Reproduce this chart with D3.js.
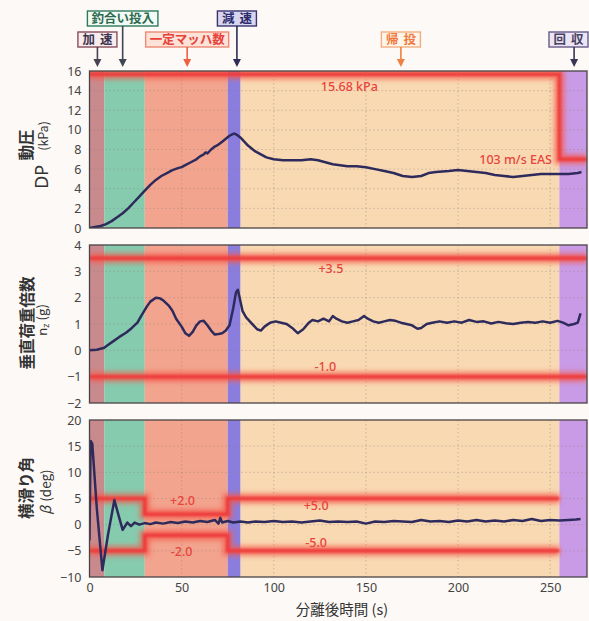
<!DOCTYPE html>
<html lang="ja">
<head>
<meta charset="UTF-8">
<title>分離後時間</title>
<script src="https://cdn.jsdelivr.net/npm/d3@7"></script>
<style>
  body, html { margin:0; background:#fcf9f6; font-family:"Noto Sans CJK JP", "Noto Sans", sans-serif; }
  svg { display:block; }
</style>
</head>
<body>
<svg width="589" height="621"></svg>
<script>
// flight phases (s after separation)
const phaseNames=['加速','釣合い投入','一定マッハ数','減速','帰投','回収'];
const phaseStart=[0,8,30,75,82,255];
const phaseEnd=[8,30,75,82,255,270];
const phaseArrowT=[4.3,18,53,80,169,263];
const phaseRow=[1,0,1,0,1,1];

const timeTicks=[0,50,100,150,200,250];
const dpTicks=[0,2,4,6,8,10,12,14,16];
const nzTicks=[-2,-1,0,1,2,3,4];
const betaTicks=[-10,-5,0,5,10,15,20];

// dynamic pressure DP (kPa)
const dpData=[[0,0],[3,0.1],[6,0.2],[9,0.4],[12,0.7],[15,1.1],[18,1.5],[21,2.0],[24,2.6],[27,3.2],[30,3.8],[33,4.4],[36,4.9],[39,5.3],[42,5.6],[45,5.9],[48,6.1],[50,6.2],[52,6.4],[55,6.7],[58,7.0],[60,7.3],[62,7.5],[63,7.7],[64,7.6],[66,8.0],[68,8.3],[70,8.5],[72,8.8],[74,9.1],[76,9.4],[78,9.6],[79,9.6],[80,9.5],[82,9.2],[84,8.8],[86,8.4],[88,8.1],[90,7.8],[93,7.5],[96,7.2],[100,7.0],[105,6.9],[110,6.9],[115,6.9],[120,7.0],[124,6.9],[128,6.7],[132,6.5],[136,6.4],[140,6.3],[145,6.3],[150,6.2],[155,6.0],[160,5.8],[165,5.6],[170,5.3],[175,5.2],[180,5.3],[184,5.6],[188,5.7],[195,5.8],[200,5.9],[205,5.8],[210,5.7],[215,5.6],[220,5.4],[225,5.3],[230,5.2],[235,5.3],[240,5.4],[245,5.5],[250,5.5],[255,5.5],[260,5.5],[265,5.6],[267,5.7]];
const dpLimit=[[0,15.68],[255,15.68],[255,7.0],[270,7.0]];

// vertical load factor nz (g)
const nzData=[[0,0.0],[4,0.02],[8,0.1],[10,0.2],[13,0.35],[16,0.5],[20,0.68],[23,0.85],[26,1.05],[28,1.3],[31,1.65],[33,1.85],[36,2.0],[38,1.98],[40,1.9],[43,1.7],[45,1.5],[47,1.2],[50,0.9],[52,0.65],[54,0.55],[56,0.7],[58,0.95],[60,1.1],[62,1.12],[64,0.95],[66,0.75],[68,0.6],[70,0.62],[72,0.65],[74,0.75],[76,0.95],[78,1.6],[79.5,2.2],[80.5,2.3],[81.5,2.0],[83,1.5],[85,1.25],[87,1.1],[89,0.95],[91,0.8],[93,0.75],[95,0.9],[98,1.05],[101,1.1],[104,1.05],[107,1.0],[110,0.85],[113,0.65],[116,0.8],[119,1.05],[121,1.15],[124,1.1],[127,1.2],[130,1.1],[132,1.3],[134,1.2],[137,1.1],[140,1.05],[143,1.1],[146,1.15],[149,1.3],[151,1.2],[154,1.1],[157,1.05],[160,1.1],[163,1.15],[166,1.12],[169,1.05],[172,1.0],[175,0.95],[178,0.82],[180,0.85],[183,1.0],[186,1.05],[190,1.1],[194,1.05],[198,1.1],[202,1.05],[206,1.15],[210,1.08],[214,1.1],[218,1.02],[222,1.08],[226,1.03],[230,1.0],[234,1.05],[238,1.08],[242,1.05],[246,1.1],[250,1.05],[254,1.12],[257,1.05],[260,0.95],[263,1.0],[265,1.05],[266.5,1.4]];
const nzUpper=[[0,3.5],[270,3.5]];
const nzLower=[[0,-1.0],[270,-1.0]];

// sideslip angle beta (deg)
const betaData=[[0,-3],[0.6,16],[1.5,15.5],[4,3],[7,-8.7],[10,-2],[13.5,4.7],[16,1.5],[18,-1.0],[20.5,0.4],[22.5,-0.3],[24.5,0.4],[27,0.0],[30,0.3],[33,0.1],[36,0.4],[40,0.2],[44,0.5],[48,0.3],[52,0.6],[56,0.4],[60,0.7],[64,0.5],[68,0.9],[70,0.2],[71,1.3],[72,0.4],[75,0.7],[78,0.4],[82,0.6],[86,0.4],[90,0.6],[95,0.5],[100,0.7],[105,0.5],[110,0.6],[115,0.4],[120,0.6],[125,0.8],[130,0.5],[135,0.6],[140,0.5],[145,0.6],[150,0.2],[155,0.6],[160,0.5],[165,0.7],[170,0.6],[175,0.5],[180,0.9],[185,0.6],[190,0.7],[195,0.5],[200,0.8],[205,0.6],[210,0.9],[215,0.6],[220,0.8],[225,0.6],[230,0.9],[235,0.7],[240,1.1],[245,0.7],[250,0.9],[255,0.8],[260,0.9],[264,1.0],[266.5,1.1]];
const betaUpper=[[0,5],[30,5],[30,2],[75,2],[75,5],[255,5]];
const betaLower=[[0,-5],[30,-5],[30,-2],[75,-2],[75,-5],[255,-5]];

// limit annotations: [text, t, value]
const dpNotes=[['15.68 kPa',141,14.0],['103 m/s EAS',251,6.5]];
const nzNotes=[['+3.5',131,2.95],['-1.0',128,-0.8]];
const betaNotes=[['+2.0',50.5,3.7],['-2.0',50,-6.0],['+5.0',123,2.8],['-5.0',123,-4.2]];

const phaseFill=['#c98a8e','#86cbae','#f2a48e','#8a7ddd','#f8d9b2','#c99be6'];
const boxStroke=['#8a4e5e','#2f7a5f','#ee8a74','#3a3570','#f2ae80','#6a5a8a'];
const boxText=['#3d3550','#2d6a4f','#e8413a','#2a2a6a','#f07a40','#4a4266'];
const boxFill=['#f8ecec','#f2faf5','#fde2d8','#d8d5f0','#fdf4ea','#ece5f3'];
const arrowCol=['#4a4252','#404552','#f06040','#2d2d55','#f08040','#3a3555'];

const svg=d3.select('svg');
const x=d3.scaleLinear().domain([0,270]).range([89.5,587]);
const numFont='"Noto Sans", "Liberation Sans", sans-serif';

const defs=svg.append('defs');
defs.append('filter').attr('id','glow').attr('filterUnits','userSpaceOnUse')
  .attr('x',0).attr('y',0).attr('width',589).attr('height',621)
  .append('feGaussianBlur').attr('stdDeviation',2.6);
defs.append('filter').attr('id','soft').attr('filterUnits','userSpaceOnUse')
  .attr('x',0).attr('y',0).attr('width',589).attr('height',621)
  .append('feGaussianBlur').attr('stdDeviation',0.8);

const panels=[
  {id:'p1',domain:[0,16],range:[228,71],ticks:dpTicks,data:dpData,limits:[dpLimit],notes:dpNotes},
  {id:'p2',domain:[-2,4],range:[403,245],ticks:nzTicks,data:nzData,limits:[nzUpper,nzLower],notes:nzNotes},
  {id:'p3',domain:[-10,20],range:[577,420],ticks:betaTicks,data:betaData,limits:[betaUpper,betaLower],notes:betaNotes}
];

panels.forEach(p=>{
  const y=d3.scaleLinear().domain(p.domain).range(p.range);
  const top=p.range[1],h=p.range[0]-p.range[1];
  const x0=x.range()[0],w=x.range()[1]-x.range()[0];
  defs.append('clipPath').attr('id','clip-'+p.id).append('rect')
    .attr('x',x0).attr('y',top).attr('width',w).attr('height',h);
  const g=svg.append('g').attr('clip-path','url(#clip-'+p.id+')');

  g.selectAll('rect.phase').data(phaseNames).enter().append('rect')
    .attr('x',(d,i)=>x(phaseStart[i])).attr('width',(d,i)=>x(phaseEnd[i])-x(phaseStart[i]))
    .attr('y',top).attr('height',h).attr('fill',(d,i)=>phaseFill[i]);

  // dotted grid
  g.selectAll('line.hg').data(p.ticks.slice(1,-1)).enter().append('line')
    .attr('x1',x0).attr('x2',x0+w).attr('y1',d=>y(d)).attr('y2',d=>y(d))
    .attr('stroke','#8d7f7a').attr('stroke-opacity',0.45).attr('stroke-width',0.9).attr('stroke-dasharray','1.5,2.5');
  g.selectAll('line.vg').data(timeTicks.slice(1)).enter().append('line')
    .attr('x1',d=>x(d)).attr('x2',d=>x(d)).attr('y1',top).attr('y2',top+h)
    .attr('stroke','#8d7f7a').attr('stroke-opacity',0.45).attr('stroke-width',0.9).attr('stroke-dasharray','1.5,2.5');

  const line=d3.line().x(d=>x(d[0])).y(d=>y(d[1]));
  p.limits.forEach(l=>{
    g.append('path').attr('d',line(l)).attr('fill','none').attr('stroke','#f4584e')
      .attr('stroke-width',10).attr('stroke-opacity',0.75).attr('filter','url(#glow)');
    g.append('path').attr('d',line(l)).attr('fill','none').attr('stroke','#ee3a3a')
      .attr('stroke-width',3.5).attr('filter','url(#soft)');
  });

  g.selectAll('text.note').data(p.notes).enter().append('text')
    .attr('x',d=>x(d[1])).attr('y',d=>y(d[2]))
    .attr('text-anchor',d=>d[0].indexOf('EAS')>=0?'end':'middle')
    .attr('fill','#e8433c').attr('font-size',12.5).attr('font-weight',500)
    .attr('font-family',numFont)
    .text(d=>d[0]);

  g.append('path').attr('d',line(p.data)).attr('fill','none')
    .attr('stroke','#2e2b5c').attr('stroke-width',2.5).attr('stroke-linejoin','round');

  svg.append('rect').attr('x',x0).attr('y',top).attr('width',w).attr('height',h)
    .attr('fill','none').attr('stroke','#4a4446').attr('stroke-width',1.3);

  const ax=svg.append('g').attr('transform','translate('+(x0-8)+',0)')
    .call(d3.axisLeft(y).tickValues(p.ticks).tickFormat(d3.format('d')).tickSize(0).tickPadding(0));
  ax.select('.domain').remove();
  ax.selectAll('text').attr('font-size',12.5).attr('fill','#444').attr('font-family',numFont);
});

// x axis labels under bottom panel
const xa=svg.append('g').attr('transform','translate(0,583)')
  .call(d3.axisBottom(x).tickValues(timeTicks).tickFormat(d3.format('d')).tickSize(0).tickPadding(0));
xa.select('.domain').remove();
xa.selectAll('text').attr('font-size',12.5).attr('fill','#444').attr('font-family',numFont);
svg.append('text').attr('x',342).attr('y',615).attr('text-anchor','middle')
  .attr('font-size',14.5).attr('fill','#333').text('分離後時間 (s)');

// y titles: bold Japanese line, then symbol + unit line
function yTitle(cy1,l1x,l1,cy2,l2x,build){
  svg.append('g').attr('transform','translate('+l1x+','+cy1+') rotate(-90)')
    .append('text').attr('text-anchor','middle').attr('font-size',15.5).attr('font-weight',700)
    .attr('fill','#333').text(l1);
  const t2=svg.append('g').attr('transform','translate('+l2x+','+cy2+') rotate(-90)')
    .append('text').attr('text-anchor','middle').attr('fill','#333');
  build(t2);
}
yTitle(145,32,'動圧',155,48,t=>{
  t.append('tspan').attr('font-size',18).attr('font-family',numFont).text('DP');
  t.append('tspan').attr('font-size',12.5).attr('dx',14).attr('dy',0).text('(kPa)');
});
yTitle(323,33,'垂直荷重倍数',320,47,t=>{
  t.append('tspan').attr('font-size',13).attr('font-family',numFont).text('n');
  t.append('tspan').attr('font-size',9).attr('font-family',numFont).attr('dy',1.5).text('z');
  t.append('tspan').attr('font-size',13).attr('dy',-1.5).attr('dx',3).text('(g)');
});
yTitle(488,32,'横滑り角',492,51,t=>{
  t.append('tspan').attr('font-size',14).attr('font-style','italic').text('β');
  t.append('tspan').attr('font-size',13.5).attr('dx',4).text('(deg)');
});

// phase call-outs at top
const rowY=[11,32],boxH=15;
phaseNames.forEach((name,i)=>{
  const ax=x(phaseArrowT[i]);
  const by=rowY[phaseRow[i]];
  const g=svg.append('g');
  const rect=g.append('rect');
  const txt=g.append('text').attr('font-size',12.5).attr('font-weight',700)
    .attr('fill',boxText[i]).attr('text-anchor','middle')
    .attr('letter-spacing',name.length===2?5:0).text(name);
  const tw=txt.node().getComputedTextLength();
  const bw=tw+(name.length===2?4:8);
  let cx=ax;
  if(cx+bw/2>588)cx=588-bw/2;
  txt.attr('x',cx+(name.length===2?2.5:0)).attr('y',by+boxH-3.2);
  rect.attr('x',cx-bw/2).attr('y',by).attr('width',bw).attr('height',boxH)
    .attr('fill',boxFill[i]).attr('stroke',boxStroke[i]).attr('stroke-width',1.4);
  g.append('line').attr('x1',ax).attr('x2',ax).attr('y1',by+boxH).attr('y2',62)
    .attr('stroke',arrowCol[i]).attr('stroke-width',1.6);
  g.append('path').attr('d','M'+(ax-4)+',59 L'+(ax+4)+',59 L'+ax+',67 Z').attr('fill',arrowCol[i]);
});
</script>
</body>
</html>
